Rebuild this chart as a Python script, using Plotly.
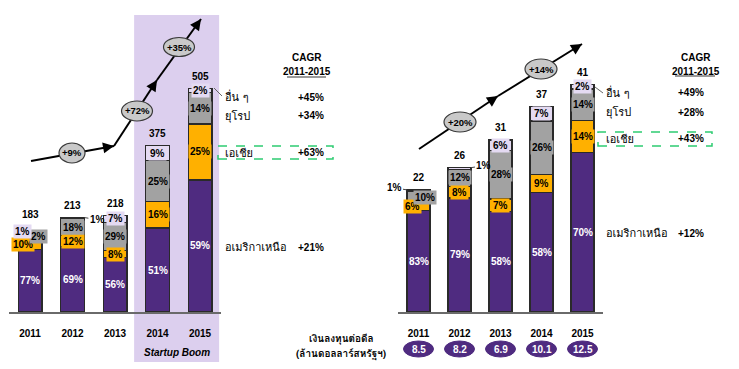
import plotly.graph_objects as go

# ---------------- data ----------------
years = ["2011", "2012", "2013", "2014", "2015"]

left_totals = [183, 213, 218, 375, 505]
left_na = [77, 69, 56, 51, 59]
left_asia = [10, 12, 8, 16, 25]
left_europe = [12, 18, 29, 25, 14]      # 2011 printed as "2%" in the source
left_others = [1, 1, 7, 9, 2]

right_totals = [22, 26, 31, 37, 41]
right_na = [83, 79, 58, 58, 70]
right_asia = [6, 8, 7, 9, 14]
right_europe = [10, 12, 28, 26, 14]
right_others = [1, 1, 6, 7, 2]

left_growth = ["+9%", "+72%", "+35%"]
right_growth = ["+20%", "+14%"]

regions = ["อื่น ๆ", "ยุโรป", "เอเชีย", "อเมริกาเหนือ"]
left_cagr = ["+45%", "+34%", "+63%", "+21%"]
right_cagr = ["+49%", "+28%", "+43%", "+12%"]

deal_size = ["8.5", "8.2", "6.9", "10.1", "12.5"]
deal_title = ["เงินลงทุนต่อดีล", "(ล้านดอลลาร์สหรัฐฯ)"]
cagr_title = ["CAGR", "2011-2015"]
boom_label = "Startup Boom"

# ---------------- style ----------------
W, H = 739, 369
FONT = "Liberation Sans, Arial, sans-serif"
THAI = "Tahoma, Loma, Garuda, Noto Sans Thai, Noto Serif Thai, Liberation Sans, sans-serif"
PURPLE = "#4f2b80"
ORANGE = "#ffb000"
GRAY = "#a2a2a2"
LAV = "#e4daf2"
SHADE = "#dccfee"
EDGE = "#2a2a2a"


def px(x, y):
    return x / W, 1 - y / H


fig = go.Figure()
shapes = []
annos = []


def note(**kw):
    kw.setdefault("xanchor", "center")
    kw.setdefault("yanchor", "middle")
    kw.setdefault("showarrow", False)
    annos.append(kw)


panels = [
    dict(key="L", xa="x", ya="y", totals=left_totals,
         segs=[("na", left_na, PURPLE), ("asia", left_asia, ORANGE),
               ("eur", left_europe, GRAY), ("oth", left_others, LAV)]),
    dict(key="R", xa="x2", ya="y2", totals=right_totals,
         segs=[("na", right_na, PURPLE), ("asia", right_asia, ORANGE),
               ("eur", right_europe, GRAY), ("oth", right_others, LAV)]),
]

tweaks = {
    ("L", "asia", 0): dict(xshift=-7, yshift=1),
    ("L", "eur", 0): dict(xshift=8, yshift=0, text="2%"),
    ("L", "oth", 0): dict(xshift=-8, yshift=0),
    ("L", "oth", 1): "right",
    ("R", "asia", 0): dict(xshift=-6),
    ("R", "eur", 0): dict(xshift=6),
    ("R", "oth", 0): "left",
    ("R", "oth", 1): "right",
}

BW = 0.56
for p in panels:
    totals = p["totals"]
    sums = [sum(s[1][i] for s in p["segs"]) for i in range(len(years))]
    base = [0.0] * len(years)
    for name, pcts, color in p["segs"]:
        vals = [totals[i] * pcts[i] / sums[i] for i in range(len(years))]
        fig.add_trace(go.Bar(
            x=years, y=vals, width=BW, xaxis=p["xa"], yaxis=p["ya"],
            marker=dict(color=color, line=dict(color=EDGE, width=1.2)),
            showlegend=False, hoverinfo="skip"))
        for i in range(len(years)):
            mid = base[i] + vals[i] / 2
            txt = f"{pcts[i]}%"
            tw = tweaks.get((p["key"], name, i), {})
            fcol = "white" if name == "na" else "black"
            if tw in ("left", "right"):
                sign = 1 if tw == "right" else -1
                annos.append(dict(
                    x=i + sign * BW / 2, y=totals[i], xref=p["xa"], yref=p["ya"],
                    text=f"<b>{txt}</b>", showarrow=True, arrowhead=0,
                    arrowwidth=1, arrowcolor="#444", ax=sign * 13,
                    ay=-2 if p["key"] == "R" else 2,
                    font=dict(family=FONT, size=10, color="black")))
                base[i] += vals[i]
                continue
            a = dict(x=i, y=mid, xref=p["xa"], yref=p["ya"],
                     text=f"<b>{tw.get('text', txt)}</b>",
                     font=dict(family=FONT, size=10, color=fcol),
                     xshift=tw.get("xshift", 0), yshift=tw.get("yshift", 0),
                     borderpad=1)
            if name != "na":
                a["bgcolor"] = color
            note(**a)
            base[i] += vals[i]
    for i, t in enumerate(totals):
        note(x=i, y=t, xref=p["xa"], yref=p["ya"], text=f"<b>{t}</b>",
             yshift=16 if (p["key"] == "L" and i == 0) else 12,
             font=dict(family=FONT, size=10, color="black"))

# Startup boom shading
x0, y0 = px(0, 362)
x1, y1 = px(0, 15)
shapes.append(dict(type="rect", xref="x", yref="paper", x0=2.45, x1=4.45,
                   y0=y0, y1=y1, fillcolor=SHADE, line=dict(width=0), layer="below"))
bx, by = px(177, 352)
note(x=bx, y=by, xref="paper", yref="paper", text=f"<b><i>{boom_label}</i></b>",
     font=dict(family=FONT, size=10, color="black"))

# growth arrows (pixel paths)
left_path = [(31, 161), (114, 146), (157, 80), (201, 19)]
right_path = [(419, 149), (498, 96), (582, 44)]
for path in (left_path, right_path):
    for (ax_, ay_), (bx_, by_) in zip(path[:-1], path[1:]):
        xa0, ya0 = px(ax_, ay_)
        xa1, ya1 = px(bx_, by_)
        shapes.append(dict(type="line", xref="paper", yref="paper",
                           x0=xa0, y0=ya0, x1=xa1, y1=ya1,
                           line=dict(color="black", width=2)))
        dx, dy = bx_ - ax_, by_ - ay_
        L = (dx * dx + dy * dy) ** 0.5
        hx, hy = px(bx_, by_)
        annos.append(dict(x=hx, y=hy, xref="paper", yref="paper", text="",
                          showarrow=True, arrowhead=2, arrowsize=1.1, arrowwidth=2,
                          arrowcolor="black", ax=-dx / L * 12, ay=-dy / L * 12,
                          standoff=0))

ellipses = [((72, 153, 26, 20), left_growth[0]), ((137, 111, 31, 20), left_growth[1]),
            ((179, 47, 31, 19), left_growth[2]), ((460, 122, 32, 20), right_growth[0]),
            ((541, 69, 32, 20), right_growth[1])]
for (cx, cy, w, h), txt in ellipses:
    ex0, ey0 = px(cx - w / 2, cy + h / 2)
    ex1, ey1 = px(cx + w / 2, cy - h / 2)
    shapes.append(dict(type="circle", xref="paper", yref="paper", x0=ex0, y0=ey0,
                       x1=ex1, y1=ey1, fillcolor="#c9c9c9",
                       line=dict(color="#3a3a3a", width=1.2)))
    tx, ty = px(cx, cy)
    note(x=tx, y=ty, xref="paper", yref="paper", text=f"<b>{txt}</b>",
         font=dict(family=FONT, size=9.5, color="black"))

# CAGR tables
tables = [
    dict(hx=307, ul=(287, 326, 77), lx=223, vx=311, ys=[97, 116, 153, 247],
         vals=left_cagr, box=(218, 333, 146, 159), lead=(214, 88, 222, 96)),
    dict(hx=696, ul=(675, 715, 76), lx=604, vx=691, ys=[93, 112, 139, 233],
         vals=right_cagr, box=(598, 712, 132, 146), lead=(595, 87, 603, 93)),
]
for t in tables:
    for k, yy in enumerate([57, 72]):
        ax_, ay_ = px(t["hx"], yy)
        note(x=ax_, y=ay_, xref="paper", yref="paper", text=f"<b>{cagr_title[k]}</b>",
             font=dict(family=FONT, size=10, color="black"))
    u0, u1, uy = t["ul"]
    ux0, uy0 = px(u0, uy)
    ux1, _ = px(u1, uy)
    shapes.append(dict(type="line", xref="paper", yref="paper", x0=ux0, x1=ux1,
                       y0=uy0, y1=uy0, line=dict(color="#9a9a9a", width=2)))
    for reg, val, yy in zip(regions, t["vals"], t["ys"]):
        lx, ly = px(t["lx"], yy)
        note(x=lx, y=ly, xref="paper", yref="paper", xanchor="left", text=reg,
             font=dict(family=THAI, size=11, color="black"))
        vx, vy = px(t["vx"], yy)
        note(x=vx, y=vy, xref="paper", yref="paper", text=f"<b>{val}</b>",
             font=dict(family=FONT, size=10, color="black"))
    bx0, by0 = px(t["box"][0], t["box"][3])
    bx1, by1 = px(t["box"][1], t["box"][2])
    shapes.append(dict(type="rect", xref="paper", yref="paper", x0=bx0, x1=bx1,
                       y0=by0, y1=by1, line=dict(color="#2ecc71", width=1.5, dash="dash")))
    l0x, l0y = px(t["lead"][0], t["lead"][1])
    l1x, l1y = px(t["lead"][2], t["lead"][3])
    shapes.append(dict(type="line", xref="paper", yref="paper", x0=l0x, y0=l0y,
                       x1=l1x, y1=l1y, line=dict(color="#666", width=1)))

# deal size row
for k, yy in enumerate([338, 353]):
    ax_, ay_ = px(341, yy)
    note(x=ax_, y=ay_, xref="paper", yref="paper", text=f"<b>{deal_title[k]}</b>",
         font=dict(family=THAI, size=10, color="black"))
_, dy = px(0, 349)
for i, v in enumerate(deal_size):
    shapes.append(dict(type="circle", xref="x2", yref="paper", xsizemode="pixel",
                       ysizemode="pixel", xanchor=i, yanchor=dy,
                       x0=-15, x1=15, y0=-8, y1=8, fillcolor=PURPLE,
                       line=dict(color=PURPLE, width=1)))
    note(x=i, y=dy, xref="x2", yref="paper", text=f"<b>{v}</b>",
         font=dict(family=FONT, size=10, color="white"))

ydom = [1 - 312 / H, 1 - 15 / H]
xcommon = dict(type="category", showline=True, linecolor="#6a6a6a", linewidth=2,
               showgrid=False, zeroline=False, ticks="outside", ticklen=11,
               tickcolor="rgba(0,0,0,0)", tickvals=years,
               ticktext=[f"<b>{y}</b>" for y in years],
               tickfont=dict(family=FONT, size=10, color="black"),
               range=[-0.5, 4.5], fixedrange=True)
ycommon = dict(visible=False, showgrid=False, zeroline=False, domain=ydom,
               fixedrange=True)

fig.update_layout(
    width=W, height=H, margin=dict(l=0, r=0, t=0, b=0),
    paper_bgcolor="white", plot_bgcolor="rgba(0,0,0,0)",
    barmode="stack", bargap=0.4, showlegend=False,
    xaxis=dict(domain=[8.75 / W, 221.25 / W], anchor="y", **xcommon),
    yaxis=dict(range=[0, 670], anchor="x", **ycommon),
    xaxis2=dict(domain=[398 / W, 603 / W], anchor="y2", **xcommon),
    yaxis2=dict(range=[0, 53.5], anchor="x2", **ycommon),
    shapes=shapes, annotations=annos,
    font=dict(family=FONT),
)

fig.write_html("out.html", config={"displayModeBar": False},
               post_script="document.body.style.margin='0px';")
